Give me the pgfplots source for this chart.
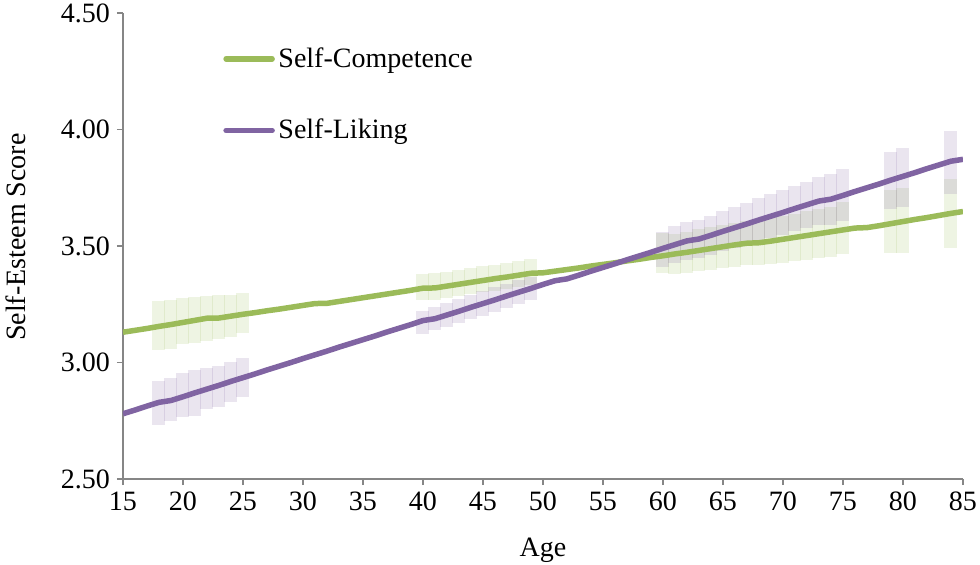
\documentclass[border=0pt]{standalone}
\usepackage{pgfplots}
\usepackage{pgfplotstable}
\pgfplotsset{compat=1.18}
\usepackage{fontspec}
\setmainfont{Liberation Serif}

\definecolor{scgreen}{RGB}{155,187,89}
\definecolor{slpurple}{RGB}{128,100,162}
\definecolor{axisgrey}{RGB}{134,134,134}

% mean lines, one row per year of age
\pgfplotstableread{
age  comp   liking
15   3.130  2.780
16   3.138  2.796
17   3.146  2.813
18   3.155  2.829
19   3.163  2.837
20   3.172  2.853
21   3.181  2.870
22   3.190  2.886
23   3.191  2.902
24   3.199  2.919
25   3.207  2.935
26   3.214  2.951
27   3.222  2.968
28   3.229  2.984
29   3.237  3.000
30   3.245  3.017
31   3.253  3.033
32   3.254  3.049
33   3.262  3.066
34   3.270  3.082
35   3.278  3.098
36   3.286  3.114
37   3.294  3.131
38   3.302  3.147
39   3.310  3.163
40   3.319  3.180
41   3.320  3.188
42   3.328  3.204
43   3.336  3.220
44   3.344  3.237
45   3.352  3.253
46   3.360  3.269
47   3.367  3.286
48   3.375  3.302
49   3.383  3.318
50   3.385  3.335
51   3.392  3.351
52   3.399  3.359
53   3.406  3.375
54   3.414  3.392
55   3.421  3.408
56   3.428  3.424
57   3.436  3.441
58   3.443  3.457
59   3.451  3.473
60   3.458  3.490
61   3.466  3.506
62   3.473  3.522
63   3.481  3.530
64   3.489  3.546
65   3.497  3.563
66   3.505  3.579
67   3.512  3.595
68   3.514  3.612
69   3.521  3.628
70   3.529  3.644
71   3.537  3.661
72   3.545  3.677
73   3.553  3.693
74   3.561  3.701
75   3.569  3.717
76   3.577  3.734
77   3.579  3.750
78   3.587  3.766
79   3.596  3.783
80   3.605  3.799
81   3.614  3.815
82   3.622  3.832
83   3.631  3.848
84   3.640  3.864
85   3.648  3.872
}\means

% confidence bands: centre and half width
\pgfplotstableread{
age  comp   ecomp  liking  eliking
18   3.159  0.105  2.826   0.094
19   3.165  0.105  2.842   0.093
20   3.178  0.098  2.861   0.093
21   3.183  0.099  2.868   0.098
22   3.189  0.097  2.889   0.089
23   3.195  0.095  2.898   0.088
24   3.200  0.090  2.917   0.087
25   3.213  0.085  2.936   0.083
40   3.323  0.056  3.171   0.050
41   3.326  0.056  3.188   0.050
42   3.333  0.056  3.204   0.052
43   3.341  0.056  3.220   0.052
44   3.349  0.056  3.237   0.052
45   3.357  0.056  3.253   0.052
46   3.364  0.056  3.269   0.053
47   3.371  0.056  3.286   0.053
48   3.379  0.056  3.302   0.052
49   3.387  0.056  3.318   0.050
60   3.470  0.085  3.485   0.075
61   3.466  0.087  3.506   0.078
62   3.473  0.088  3.522   0.080
63   3.481  0.090  3.530   0.082
64   3.489  0.091  3.546   0.084
65   3.497  0.092  3.563   0.086
66   3.505  0.093  3.579   0.088
67   3.512  0.094  3.595   0.090
68   3.514  0.096  3.612   0.093
69   3.521  0.098  3.628   0.095
70   3.529  0.100  3.644   0.096
71   3.537  0.102  3.661   0.097
72   3.545  0.104  3.677   0.098
73   3.553  0.106  3.693   0.103
74   3.561  0.108  3.701   0.110
75   3.576  0.112  3.719   0.112
79   3.606  0.135  3.780   0.122
80   3.610  0.139  3.793   0.127
84   3.638  0.148  3.858   0.136
}\bands

\begin{document}
\begin{tikzpicture}
\begin{axis}[
  at={(0,0)}, anchor=south west,
  scale only axis, width=420pt, height=233pt,
  xmin=15, xmax=85, ymin=2.5, ymax=4.5,
  xtick={15,20,...,85}, ytick={2.5,3,...,4.5},
  axis x line=bottom, axis y line=left,
  axis line style={axisgrey, line width=0.8pt, -},
  tick style={axisgrey, line width=0.8pt},
  tick align=outside, major tick length=3pt,
  font=\fontsize{14}{17}\selectfont,
  ticklabel style={font=\fontsize{14}{17}\selectfont},
  /pgf/number format/assume math mode=true,
  yticklabel style={/pgf/number format/.cd, fixed, fixed zerofill, precision=2},
  xlabel={Age}, ylabel={Self-Esteem Score},
  xlabel style={at={(axis description cs:0.5,0)}, anchor=center, yshift=-35.5pt},
  ylabel style={at={(axis description cs:-0.1274,0.519)}, anchor=center},
  legend cell align=left,
  legend image code/.code={\draw[#1, line cap=round] (0pt,0pt) -- (23pt,0pt);},
  legend style={at={(0.119,0.927)}, anchor=north west, draw=none, fill=none,
    inner sep=0pt, row sep=24.5pt, column sep=1.8pt,
    nodes={inner sep=0pt}, font=\fontsize{14}{17}\selectfont},
]
\addplot[forget plot, draw=none, no markers,
  error bars/.cd, y dir=both, y explicit, error mark=none,
  error bar style={draw=scgreen, line width=6.5pt, opacity=0.17}]
  table[x=age, y=comp, y error=ecomp] {\bands};
\addplot[forget plot, draw=none, no markers,
  error bars/.cd, y dir=both, y explicit, error mark=none,
  error bar style={draw=slpurple, line width=6.5pt, opacity=0.17}]
  table[x=age, y=liking, y error=eliking] {\bands};
\addplot[scgreen, line width=2.75pt] table[x=age, y=comp] {\means};
\addlegendentry{Self-Competence}
\addplot[slpurple, line width=2.75pt] table[x=age, y=liking] {\means};
\addlegendentry{Self-Liking}
\end{axis}
\pgfresetboundingbox
\path[use as bounding box] (-61.5pt,-42.5pt) rectangle (428.5pt,239.5pt);
\end{tikzpicture}
\end{document}
